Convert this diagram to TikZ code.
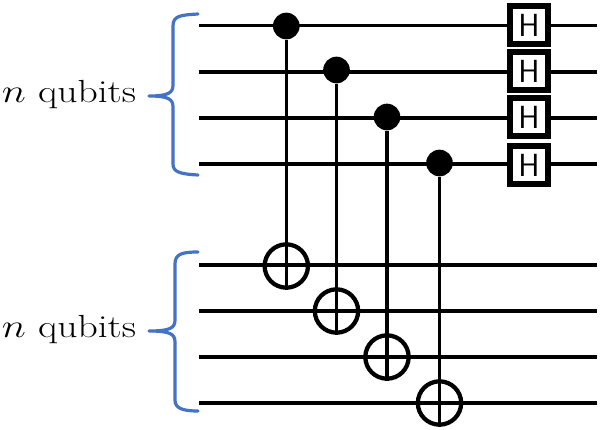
\documentclass[tikz,border=0pt]{standalone}
\usepackage{xcolor}
\definecolor{bracecol}{RGB}{68,114,196}
\tikzset{
  wire/.style={line width=2.4pt,black},
  ctrl/.style={circle,fill=black,inner sep=0pt,minimum size=20pt},
  target/.style={circle,draw=black,line width=3.2pt,inner sep=0pt,minimum size=32.5pt},
  hgate/.style={draw=black,fill=white,line width=3.8pt,inner sep=0pt,minimum size=28.5pt,font=\sffamily\fontsize{24}{24}\selectfont},
  brace/.style={line width=2.4pt,bracecol,line cap=round},
  reglabel/.style={font=\fontsize{24}{28}\selectfont,inner sep=0pt}
}
\begin{document}
\begin{tikzpicture}[x=0.75pt,y=-0.75pt]
    \useasboundingbox (0,0) rectangle (600,429);

    % Wire ends
    \coordinate (a1) at (199,25.5); \coordinate (b1) at (597,25.5);
    \coordinate (a2) at (199,72);   \coordinate (b2) at (597,72);
    \coordinate (a3) at (199,118);  \coordinate (b3) at (597,118);
    \coordinate (a4) at (199,164);  \coordinate (b4) at (597,164);
    \coordinate (a5) at (199,265);  \coordinate (b5) at (597,265);
    \coordinate (a6) at (199,311);  \coordinate (b6) at (597,311);
    \coordinate (a7) at (199,357);  \coordinate (b7) at (597,357);
    \coordinate (a8) at (199,403);  \coordinate (b8) at (597,403);

    % Wires
    \draw[wire] (a1) -- (b1);
    \draw[wire] (a2) -- (b2);
    \draw[wire] (a3) -- (b3);
    \draw[wire] (a4) -- (b4);
    \draw[wire] (a5) -- (b5);
    \draw[wire] (a6) -- (b6);
    \draw[wire] (a7) -- (b7);
    \draw[wire] (a8) -- (b8);

    % Controls
    \node[ctrl] (c1) at (286.3,26) {};
    \node[ctrl] (c2) at (336.5,70) {};
    \node[ctrl] (c3) at (387,117) {};
    \node[ctrl] (c4) at (439.5,163) {};

    % Targets
    \node[target] (t1) at (286.3,266) {};
    \node[target] (t2) at (336.5,311) {};
    \node[target] (t3) at (387,357) {};
    \node[target] (t4) at (439.5,403) {};

    % Control lines
    \draw[wire] (c1) -- (t1.south);
    \draw[wire] (c2) -- (t2.south);
    \draw[wire] (c3) -- (t3.south);
    \draw[wire] (c4) -- (t4.south);

    % Hadamard boxes
    \node[hgate] (h1) at (529,25) {H};
    \node[hgate] (h2) at (529,71) {H};
    \node[hgate] (h3) at (529,117) {H};
    \node[hgate] (h4) at (529,165) {H};

    % Braces
    \draw[brace] (198,14) .. controls (180,15) and (173,16) .. (173,26)
        -- (173,85) .. controls (173,93) and (168,96) .. (149,96)
        (149,96) .. controls (168,96) and (173,99) .. (173,107)
        -- (173,164) .. controls (173,172) and (180,174) .. (198,175);
    \draw[brace] (198,252) .. controls (182,252) and (175,254) .. (175,264)
        -- (175,320) .. controls (175,328) and (170,331) .. (149,331)
        (149,331) .. controls (170,331) and (175,334) .. (175,342)
        -- (175,400) .. controls (175,408) and (182,411) .. (198,411);

    % Labels
    \node[reglabel,xscale=1.24] (n1) at (69,95) {$n$ qubits};
    \node[reglabel,xscale=1.24] (n2) at (69,330) {$n$ qubits};
\end{tikzpicture}
\end{document}
